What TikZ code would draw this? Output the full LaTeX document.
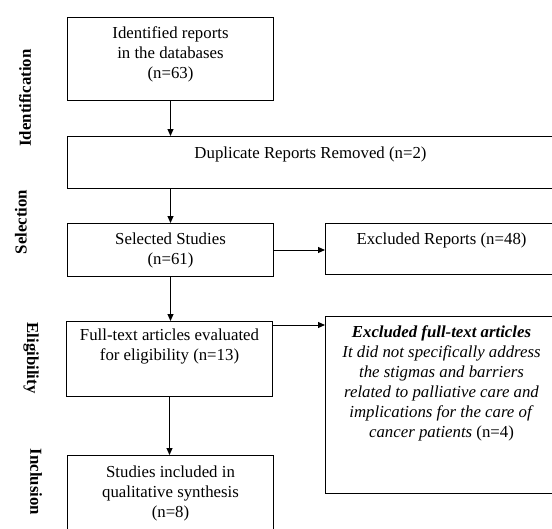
\documentclass[tikz,border=0pt]{standalone}
\usepackage{fontspec}
\setmainfont{Liberation Serif}
\usetikzlibrary{arrows.meta}
\tikzset{
    flow-box/.style = {draw, line width=1pt, anchor=north west, align=center, inner xsep=0pt, inner ysep=0pt, font=\fontsize{16.8}{20}\selectfont},
    flow-arrow/.style = {line width=1pt, -{Triangle[length=7pt,width=6pt]}},
    side-title/.style = {font=\fontsize{16.8}{20}\selectfont\bfseries},
}

\begin{document}
\begin{tikzpicture}[x=1pt, y=-1pt]
\useasboundingbox (0,0) rectangle (552,528);
\clip (0,0) rectangle (552,528);
% boxes of the flow
\node [flow-box, minimum width=206pt, text height=61pt, text depth=22pt] (idbox) at (67,17) {Identified reports\\in the databases\\(n=63)};
\node [flow-box, minimum width=486pt, text height=22pt, text depth=30pt] (dupbox) at (67,136) {Duplicate Reports Removed (n=2)};
\node [flow-box, minimum width=206pt, text height=41pt, text depth=12pt] (selbox) at (67,223) {Selected Studies\\(n=61)};
\node [flow-box, minimum width=232pt, text height=21pt, text depth=30pt] (excbox) at (325,223) {Excluded Reports (n=48)};
\node [flow-box, minimum width=206pt, text height=39pt, text depth=36pt] (fullbox) at (66,321) {Full-text articles evaluated\\for eligibility (n=13)};
\node [flow-box, minimum width=232pt, text height=121pt, text depth=56pt] (exfbox) at (325,316) {\textbf{\textit{Excluded full-text articles}}\\\textit{It did not specifically address}\\\textit{the stigmas and barriers}\\\textit{related to palliative care and}\\\textit{implications for the care of}\\\textit{cancer patients} (n=4)};
\node [flow-box, minimum width=206pt, text height=62pt, text depth=28pt] (incbox) at (67,455) {Studies included in\\qualitative synthesis\\(n=8)};

% stage titles
\node [side-title, rotate=90] (identt) at (25,98) {Identification};
\node [side-title, rotate=90] (selt) at (21,222) {Selection};
\node [side-title, rotate=-90] (eligt) at (31,358) {Eligibility};
\node [side-title, rotate=-90] (inclt) at (36,482) {Inclusion};

% arrows
\coordinate (fullout) at ([yshift=-4pt]fullbox.north east);
\draw [flow-arrow] (idbox.south) -- (idbox.south |- dupbox.north);
\draw [flow-arrow] (dupbox.south -| selbox.north) -- (selbox.north);
\draw [flow-arrow] (selbox.east) -- (selbox.east -| excbox.west);
\draw [flow-arrow] (selbox.south) -- (selbox.south |- fullbox.north);
\draw [flow-arrow] (fullout) -- (fullout -| exfbox.west);
\draw [flow-arrow] (fullbox.south) -- (fullbox.south |- incbox.north);
\end{tikzpicture}
\end{document}
